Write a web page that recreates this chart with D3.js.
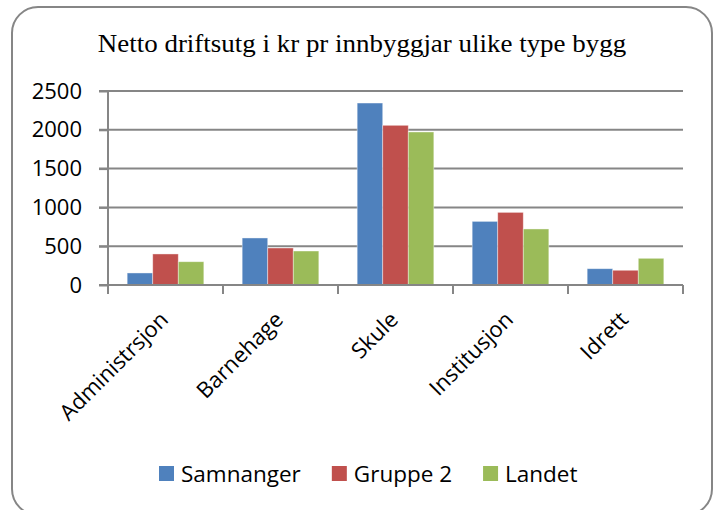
<!DOCTYPE html>
<html>
<head>
<meta charset="utf-8">
<script src="https://cdn.jsdelivr.net/npm/d3@7"></script>
<style>
  html, body { margin: 0; padding: 0; background: #fff; }
  svg { display: block; }
</style>
</head>
<body>
<svg id="chart" width="720" height="510"></svg>
<script>
// Data: net operating cost per inhabitant (NOK) by building type
const categories = ["Administrsjon", "Barnehage", "Skule", "Institusjon", "Idrett"];
const seriesNames = ["Samnanger", "Gruppe 2", "Landet"];
const samnanger = [155, 606, 2345, 820, 210];
const gruppe2   = [400, 477, 2058, 936, 190];
const landet    = [300, 438, 1972, 722, 344];
const yTicks    = [0, 500, 1000, 1500, 2000, 2500];
const titleText = "Netto driftsutg i kr pr innbyggjar ulike type bygg";

const seriesValues = [samnanger, gruppe2, landet];
const colors = ["#4F81BD", "#C0504D", "#9BBB59"];
const axisColor = "#868686";
const sansFont = "'Open Sans', 'Noto Sans', sans-serif";

const svg = d3.select("#chart");

// Rounded chart-area frame
svg.append("rect")
  .attr("x", 12).attr("y", 7)
  .attr("width", 700).attr("height", 508)
  .attr("rx", 26).attr("ry", 26)
  .attr("fill", "#fff")
  .attr("stroke", axisColor)
  .attr("stroke-width", 2);

// Title (slightly widened serif)
svg.append("text")
  .attr("transform", "translate(362,52) scale(1.1,1)")
  .attr("text-anchor", "middle")
  .attr("font-family", "'Liberation Serif', 'Times New Roman', serif")
  .attr("font-size", 24.5)
  .attr("fill", "#000")
  .text(titleText);

// Scales
const plot = { left: 108, right: 683, top: 91, bottom: 285 };
const x0 = d3.scaleBand().domain(categories).range([plot.left, plot.right]).padding(0);
const step = x0.step();
// 150% gap width: bars take 3 of 4.5 units per category
const x1 = d3.scaleBand().domain(seriesNames)
  .range([step * 0.75 / 4.5, step * 3.75 / 4.5]).padding(0);
const y = d3.scaleLinear().domain([0, 2500]).range([plot.bottom, plot.top]);

// Horizontal gridlines (extend left as tick marks)
svg.append("g").selectAll("line")
  .data(yTicks.filter(d => d !== 0))
  .join("line")
  .attr("x1", plot.left - 9).attr("x2", plot.right)
  .attr("y1", d => y(d)).attr("y2", d => y(d))
  .attr("stroke", axisColor).attr("stroke-width", 2);

// Y axis
const yAxis = svg.append("g")
  .attr("transform", `translate(${plot.left},0)`)
  .call(d3.axisLeft(y).tickValues(yTicks).tickFormat(d3.format("d"))
    .tickSize(9).tickSizeOuter(0).tickPadding(17));
yAxis.select(".domain").attr("stroke", axisColor).attr("stroke-width", 2)
  .attr("d", `M0,${plot.top}V${plot.bottom + 9}`);
yAxis.selectAll(".tick line").attr("stroke", axisColor).attr("stroke-width", 2);
yAxis.selectAll(".tick text")
  .attr("font-family", sansFont).attr("font-size", 22).attr("fill", "#000");

// Bars
const groups = svg.append("g").selectAll("g")
  .data(categories)
  .join("g")
  .attr("transform", d => `translate(${x0(d)},0)`);

groups.selectAll("rect")
  .data((c, i) => seriesNames.map((s, j) => ({ s, v: seriesValues[j][i], j })))
  .join("rect")
  .attr("x", d => x1(d.s))
  .attr("y", d => y(d.v))
  .attr("width", x1.bandwidth())
  .attr("height", d => y(0) - y(d.v))
  .attr("fill", d => colors[d.j])
  .attr("stroke", "rgba(255,255,255,0.5)")
  .attr("stroke-width", 0.8);

// X axis: baseline with tick marks between categories
const xAxis = svg.append("g").attr("transform", `translate(0,${plot.bottom})`);
xAxis.append("line")
  .attr("x1", plot.left - 9).attr("x2", plot.right)
  .attr("y1", 0).attr("y2", 0)
  .attr("stroke", axisColor).attr("stroke-width", 2);
const boundaries = categories.map(c => x0(c)).concat([x0(categories[categories.length - 1]) + step]);
xAxis.selectAll("line.tick")
  .data(boundaries)
  .join("line")
  .attr("class", "tick")
  .attr("x1", d => d).attr("x2", d => d)
  .attr("y1", 0).attr("y2", 9)
  .attr("stroke", axisColor).attr("stroke-width", 2);

// Category labels rotated -45°
xAxis.selectAll("text")
  .data(categories)
  .join("text")
  .attr("transform", d => `translate(${x0(d) + step / 2 + 4},36) rotate(-45)`)
  .attr("text-anchor", "end")
  .attr("font-family", sansFont)
  .attr("font-size", 22)
  .attr("fill", "#000")
  .text(d => d);

// Legend
const legend = svg.append("g");
const items = legend.selectAll("g")
  .data(seriesNames)
  .join("g");
items.append("rect")
  .attr("width", 15).attr("height", 15)
  .attr("y", -8)
  .attr("fill", (d, i) => colors[i]);
items.append("text")
  .attr("x", 22).attr("y", 8)
  .attr("font-family", sansFont)
  .attr("font-size", 22.5)
  .attr("fill", "#000")
  .text(d => d);
let cursor = 0;
items.each(function () {
  const g = d3.select(this);
  g.attr("transform", `translate(${cursor},0)`);
  cursor += 22 + g.select("text").node().getComputedTextLength() + 31;
});
legend.attr("transform", `translate(${159},474)`);
</script>
</body>
</html>
